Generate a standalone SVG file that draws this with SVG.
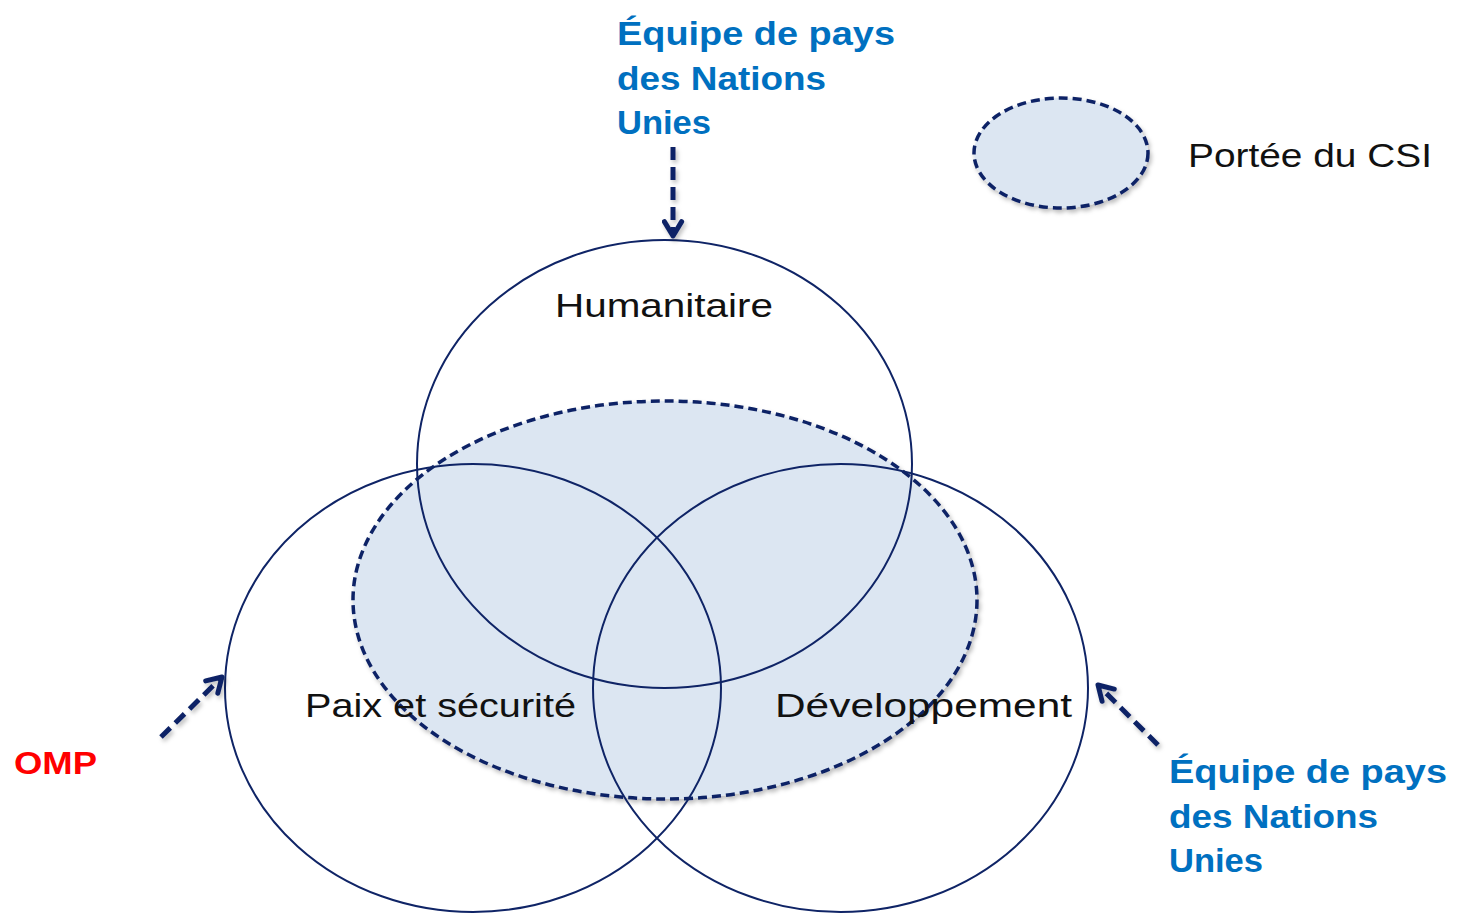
<svg xmlns="http://www.w3.org/2000/svg" width="1458" height="913" viewBox="0 0 1458 913">
<defs>
<style>
.circ{fill:none;stroke:#0f2466;stroke-width:2}
.scope{fill:#dce6f2;stroke:#0f2466;stroke-width:3.5;stroke-dasharray:9 5}
.lbl{font-family:"Liberation Sans",Arial,sans-serif;font-size:34px;fill:#111}
.blue{font-family:"Liberation Sans",Arial,sans-serif;font-size:34px;font-weight:bold;fill:#0070c0}
.red{font-family:"Liberation Sans",Arial,sans-serif;font-size:32px;font-weight:bold;fill:#ff0000}
.arr{fill:none;stroke:#0f2466;stroke-width:5;stroke-dasharray:13 7}
</style>
<marker id="ah" viewBox="0 0 12 12" refX="10" refY="6" markerWidth="4.6" markerHeight="4.6" orient="auto" markerUnits="strokeWidth">
<path d="M2.5 1.5 L10 6 L2.5 10.5" fill="none" stroke="#0f2466" stroke-width="2.6" stroke-linecap="round" stroke-linejoin="round"/>
</marker>
<filter id="sh" x="-10%" y="-10%" width="120%" height="120%">
<feDropShadow dx="2" dy="3" stdDeviation="2" flood-color="#000" flood-opacity="0.25"/>
</filter>
<filter id="sh2" filterUnits="userSpaceOnUse" x="0" y="0" width="1458" height="913">
<feDropShadow dx="2" dy="3" stdDeviation="2" flood-color="#000" flood-opacity="0.25"/>
</filter>
</defs>
<g id="scope">
<ellipse class="scope" cx="665" cy="600" rx="312" ry="199" filter="url(#sh)"/>
</g>
<g id="humanitaire">
<ellipse class="circ" cx="664.5" cy="464" rx="247.5" ry="224"/>
<text class="lbl" x="555" y="317" textLength="218" lengthAdjust="spacingAndGlyphs">Humanitaire</text>
</g>
<g id="paix">
<ellipse class="circ" cx="473" cy="688" rx="248" ry="224"/>
<text class="lbl" x="305" y="717" textLength="271" lengthAdjust="spacingAndGlyphs">Paix et sécurité</text>
</g>
<g id="developpement">
<ellipse class="circ" cx="840.5" cy="688" rx="247.5" ry="224"/>
<text class="lbl" x="775" y="717" textLength="297" lengthAdjust="spacingAndGlyphs">Développement</text>
</g>
<g id="legend">
<ellipse class="scope" cx="1061" cy="153" rx="87" ry="55" filter="url(#sh)"/>
<text class="lbl" x="1188" y="167" textLength="244" lengthAdjust="spacingAndGlyphs">Portée du CSI</text>
</g>
<g id="unct-top">
<text class="blue" x="617" y="45" textLength="278" lengthAdjust="spacingAndGlyphs">Équipe de pays</text>
<text class="blue" x="617" y="90" textLength="209" lengthAdjust="spacingAndGlyphs">des Nations</text>
<text class="blue" x="617" y="134" textLength="94" lengthAdjust="spacingAndGlyphs">Unies</text>
</g>
<g id="unct-right">
<text class="blue" x="1169" y="783" textLength="278" lengthAdjust="spacingAndGlyphs">Équipe de pays</text>
<text class="blue" x="1169" y="828" textLength="209" lengthAdjust="spacingAndGlyphs">des Nations</text>
<text class="blue" x="1169" y="872" textLength="94" lengthAdjust="spacingAndGlyphs">Unies</text>
</g>
<g id="omp">
<text class="red" x="14" y="774" textLength="83" lengthAdjust="spacingAndGlyphs">OMP</text>
</g>
<g id="connectors" filter="url(#sh2)">
<path class="arr" d="M673 147 L673 236" marker-end="url(#ah)"/>
<path class="arr" d="M161 737 L222 677" marker-end="url(#ah)"/>
<path class="arr" d="M1158 745 L1098 685" marker-end="url(#ah)"/>
</g>
</svg>
